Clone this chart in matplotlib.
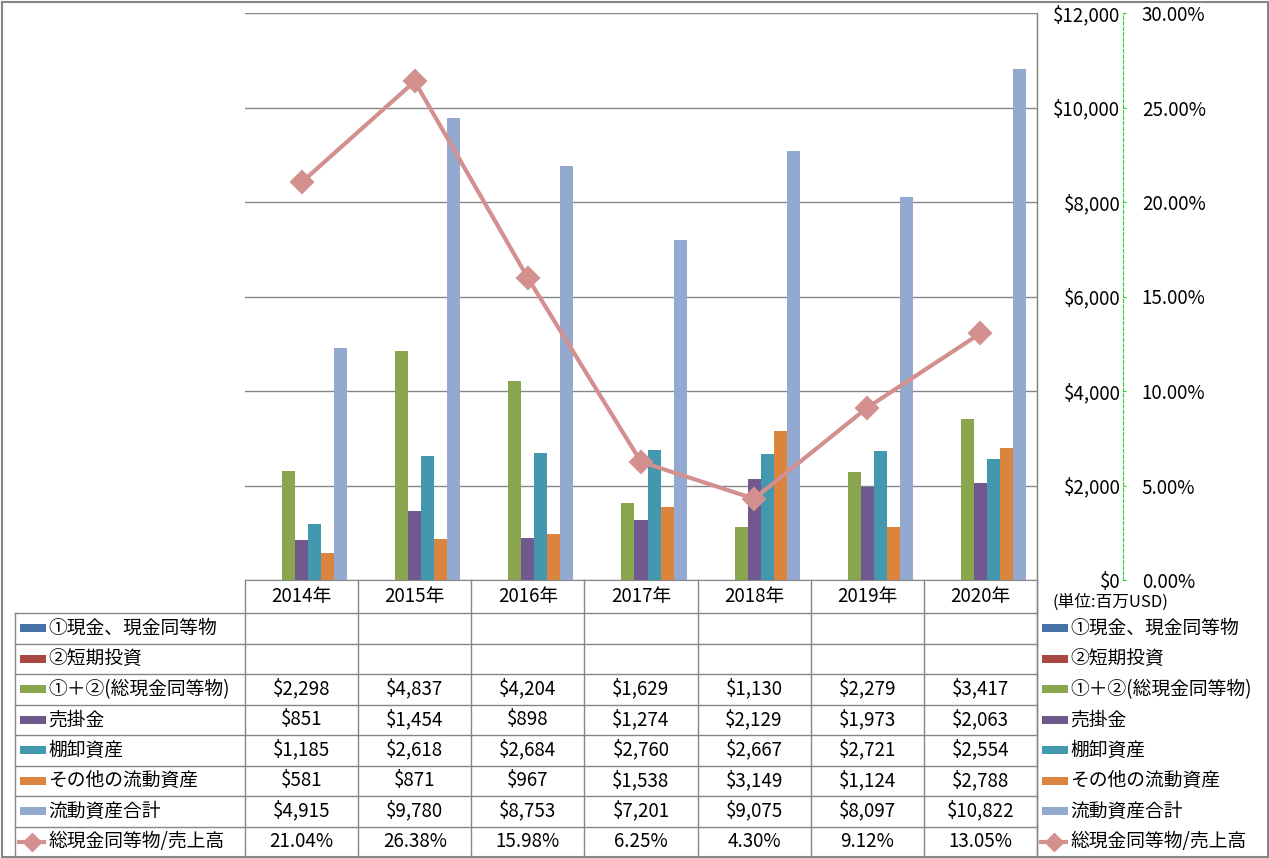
import numpy as np
import matplotlib
matplotlib.use("Agg")
import matplotlib.pyplot as plt
from matplotlib.ticker import FuncFormatter, MultipleLocator

plt.rcParams["font.family"] = ["Noto Sans CJK JP", "DejaVu Sans"]

years = ["2014年", "2015年", "2016年", "2017年", "2018年", "2019年", "2020年"]
series_names = ["①現金、現金同等物", "②短期投資", "①＋②(総現金同等物)", "売掛金",
                "棚卸資産", "その他の流動資産", "流動資産合計"]
cash = [None] * 7
short_inv = [None] * 7
total_cash = [2298, 4837, 4204, 1629, 1130, 2279, 3417]
receivables = [851, 1454, 898, 1274, 2129, 1973, 2063]
inventory = [1185, 2618, 2684, 2760, 2667, 2721, 2554]
other_assets = [581, 871, 967, 1538, 3149, 1124, 2788]
current_assets = [4915, 9780, 8753, 7201, 9075, 8097, 10822]
ratio_name = "総現金同等物/売上高"
cash_to_sales = [0.2104, 0.2638, 0.1598, 0.0625, 0.0430, 0.0912, 0.1305]
usd_ticks = [0, 2000, 4000, 6000, 8000, 10000, 12000]
pct_ticks = [0.0, 0.05, 0.10, 0.15, 0.20, 0.25, 0.30]

bar_data = [cash, short_inv, total_cash, receivables, inventory, other_assets, current_assets]
colors = ["#4572A7", "#AA4643", "#89A54E", "#71588F", "#4198AF", "#DB843D", "#93A9CF"]
line_color = "#D3908E"
grid_color = "#868686"
FS = 13.5

W, H = 1269, 858
fig = plt.figure(figsize=(W / 100, H / 100), dpi=100)

# overlay in pixel coordinates for the data table / legends / frame
ov = fig.add_axes([0, 0, 1, 1])
ov.set_xlim(0, W)
ov.set_ylim(H, 0)
ov.axis("off")


def fr(x0, y0, x1, y1):
    return [x0 / W, 1 - y1 / H, (x1 - x0) / W, (y1 - y0) / H]


PL, PR, PT, PB = 245, 1037, 13, 580
ax = fig.add_axes(fr(PL, PT, PR, PB))
ax.set_facecolor("none")

n = len(bar_data)
group = 0.805
bw = group / n
x = np.arange(len(years))
for i, (vals, c) in enumerate(zip(bar_data, colors)):
    v = np.array([np.nan if a is None else a for a in vals], dtype=float)
    if np.all(np.isnan(v)):
        continue
    ax.bar(x - group / 2 + bw * (i + 0.5), np.nan_to_num(v), width=bw, color=c,
           linewidth=0, zorder=3)

ax2 = ax.twinx()
ax2.plot(x, cash_to_sales, color=line_color, linewidth=3, marker="D",
         markersize=11.5, markeredgewidth=1.5, zorder=5, solid_capstyle="round")

ax.set_xlim(-0.5, len(years) - 0.5)
ax.set_ylim(0, 12000)
ax.yaxis.set_ticks_position("right")
ax.set_yticks(usd_ticks, [f"${v:,}" for v in usd_ticks], ha="right")
ax.tick_params(axis="y", length=0, pad=60, labelsize=FS,
               labelleft=False, labelright=True)
ax.set_xticks([])
ax.grid(axis="y", color=grid_color, linewidth=1.0, zorder=0)
for s in ("left", "top"):
    ax.spines[s].set_visible(False)
ax.spines["right"].set_color(grid_color)
ax.spines["bottom"].set_color(grid_color)

ax2.set_ylim(0, 0.30)
ax2.set_yticks(pct_ticks, [f"{v:.2%}" for v in pct_ticks])
ax2.spines["right"].set_position(("outward", 62))
ax2.spines["right"].set_color("#1ED81E")
ax2.spines["right"].set_linestyle((0, (3, 2)))
for s in ("left", "top", "bottom"):
    ax2.spines[s].set_visible(False)
ax2.tick_params(axis="y", direction="out", length=2.5, color="#1ED81E",
                pad=11, labelsize=FS)

ov.text(1053, 602, "(単位:百万USD)", fontsize=12, va="center", ha="left")

# data table
cols = [PL + (PR - PL) * k / len(years) for k in range(len(years) + 1)]
rows = [580, 613, 643.5, 674, 704.5, 735, 765.5, 796, 826.5, 857]
lkw = dict(color=grid_color, linewidth=1.0)
for cx in cols:
    ov.plot([cx, cx], [580, 857], **lkw)
ov.plot([PR, PR], [PT, 857], **lkw)
ov.plot([15, 15], [613, 857], **lkw)
for ry in rows[1:]:
    ov.plot([15, PR], [ry, ry], **lkw)

for k, yr in enumerate(years):
    ov.text((cols[k] + cols[k + 1]) / 2, (rows[0] + rows[1]) / 2, yr,
            ha="center", va="center", fontsize=FS)

labels = series_names + [ratio_name]
table_vals = bar_data + [cash_to_sales]
for r, (name, vals) in enumerate(zip(labels, table_vals)):
    yc = (rows[r + 1] + rows[r + 2]) / 2
    for k, v in enumerate(vals):
        if v is None:
            continue
        txt = f"{v:.2%}" if r == len(labels) - 1 else f"${v:,}"
        ov.text((cols[k] + cols[k + 1]) / 2, yc, txt, ha="center", va="center",
                fontsize=FS)
    for kx, tx in ((20, 48), (1042, 1070)):
        if r < len(series_names):
            ov.add_patch(plt.Rectangle((kx, yc - 4), 26, 8, color=colors[r], linewidth=0))
        else:
            ov.plot([kx - 3, kx + 26], [yc, yc], color=line_color, linewidth=3,
                    solid_capstyle="butt")
            ov.plot([kx + 11.5], [yc], marker="D", markersize=9, color=line_color)
        ov.text(tx, yc, name, ha="left", va="center", fontsize=FS)

# outer frame
ov.add_patch(plt.Rectangle((1.5, 1.5), W - 3, H - 3, fill=False,
                           edgecolor=grid_color, linewidth=1.5))

fig.savefig("out.png", dpi=100)
